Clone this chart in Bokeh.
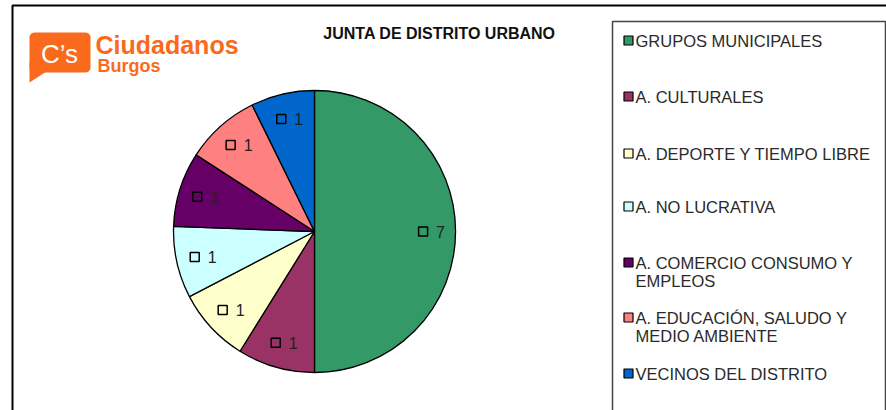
import numpy as np
from bokeh.plotting import figure
from bokeh.models import Range1d
from bokeh.core.properties import value
from bokeh.embed import file_html
from bokeh.resources import INLINE

# ---- data ----
categories = ["GRUPOS MUNICIPALES", "A. CULTURALES", "A. DEPORTE Y TIEMPO LIBRE",
              "A. NO LUCRATIVA", "A. COMERCIO CONSUMO Y EMPLEOS",
              "A. EDUCACIÓN, SALUDO Y MEDIO AMBIENTE", "VECINOS DEL DISTRITO"]
legend_lines = [["GRUPOS MUNICIPALES"], ["A. CULTURALES"], ["A. DEPORTE Y TIEMPO LIBRE"],
                ["A. NO LUCRATIVA"], ["A. COMERCIO CONSUMO Y", "EMPLEOS"],
                ["A. EDUCACIÓN, SALUDO Y", "MEDIO AMBIENTE"], ["VECINOS DEL DISTRITO"]]
values = [7, 1.24, 1.19, 1.15, 1.2, 1.2, 1.02]
value_labels = ["7", "1", "1", "1", "1", "1", "1"]
colors = ["#339966", "#993366", "#FFFFCC", "#CCFFFF", "#660066", "#FF8080", "#0066CC"]
title = "JUNTA DE DISTRITO URBANO"

W, H = 886, 410
def Y(py):
    return H - py

p = figure(width=W, height=H, x_range=Range1d(0, W), y_range=Range1d(0, H),
           x_axis_type=None, y_axis_type=None, toolbar_location=None,
           output_backend="svg", min_border=0)
p.grid.visible = False
p.outline_line_color = None
p.background_fill_color = "white"
p.border_fill_color = "white"

FONT = "Liberation Sans"

# outer frame
p.line([12, 12, 900], [-10, Y(5), Y(5)], line_color="black", line_width=2)

# legend box
p.quad(left=[612], right=[885], top=[Y(21)], bottom=[-10], fill_color=None,
       line_color="#444444", line_width=1.5)

# ---- pie ----
cx, cy, r = 314, Y(231), 141
total = float(sum(values))
cum = np.concatenate([[0], np.cumsum(values)])
starts = np.pi / 2 - 2 * np.pi * cum[:-1] / total
ends = np.pi / 2 - 2 * np.pi * cum[1:] / total
p.wedge(x=cx, y=cy, radius=r, start_angle=list(starts), end_angle=list(ends),
        direction="clock", fill_color=colors, line_color="black", line_width=1.3)

mids = (starts + ends) / 2
lx = cx + 0.82 * r * np.cos(mids)
ly = cy + 0.82 * r * np.sin(mids)
p.scatter(x=list(lx - 7), y=list(ly), marker="square", size=9, fill_color=None,
          line_color="black", line_width=1.5)
p.text(x=list(lx + 6), y=list(ly), text=value_labels, text_font=value(FONT),
       text_font_size="16px", text_color="#222222", text_align="left",
       text_baseline="middle")

# ---- title ----
p.text(x=[439], y=[Y(33)], text=[title], text_font=value(FONT), text_font_size="16px",
       text_font_style="bold", text_color="#111111", text_align="center",
       text_baseline="middle")

# ---- legend ----
leg_y = [40, 96, 153, 206, 262, 317, 373]
p.scatter(x=[628] * len(colors), y=[Y(v) for v in leg_y], marker="square", size=9,
          fill_color=colors, line_color="black", line_width=1.2)
tx, ty, tt = [], [], []
for lines, yy in zip(legend_lines, leg_y):
    for i, ln in enumerate(lines):
        tx.append(635)
        ty.append(Y(yy + 18.5 * i))
        tt.append(ln)
p.text(x=tx, y=ty, text=tt, text_font=value(FONT), text_font_size="16.5px",
       text_color="#2a2a2a", text_align="left", text_baseline="middle")

# ---- logo ----
orange = "#FA6A1C"
x0, x1, y0, y1, rr = 29, 90, 32, 72, 5
pts = []
for (ccx, ccy, a0) in [(x1 - rr, y0 + rr, -90), (x1 - rr, y1 - rr, 0),
                       (x0 + rr, y1 - rr, 90), (x0 + rr, y0 + rr, 180)]:
    for a in np.linspace(a0, a0 + 90, 8):
        pts.append((ccx + rr * np.cos(np.radians(a)), ccy + rr * np.sin(np.radians(a))))
p.patch([q[0] for q in pts], [Y(q[1]) for q in pts], fill_color=orange, line_color=None)
p.patch([29, 29, 46], [Y(62), Y(82), Y(71)], fill_color=orange, line_color=None)
p.text(x=[59], y=[Y(53)], text=["C’s"], text_font=value(FONT), text_font_size="26px",
       text_color="white", text_align="center", text_baseline="middle")
p.text(x=[95], y=[Y(44)], text=["Ciudadanos"], text_font=value(FONT), text_font_size="25px",
       text_font_style="bold", text_color=orange, text_align="left", text_baseline="middle")
p.text(x=[97], y=[Y(65)], text=["Burgos"], text_font=value(FONT), text_font_size="18px",
       text_font_style="bold", text_color=orange, text_align="left", text_baseline="middle")

open("out.html", "w").write(file_html(p, INLINE))
